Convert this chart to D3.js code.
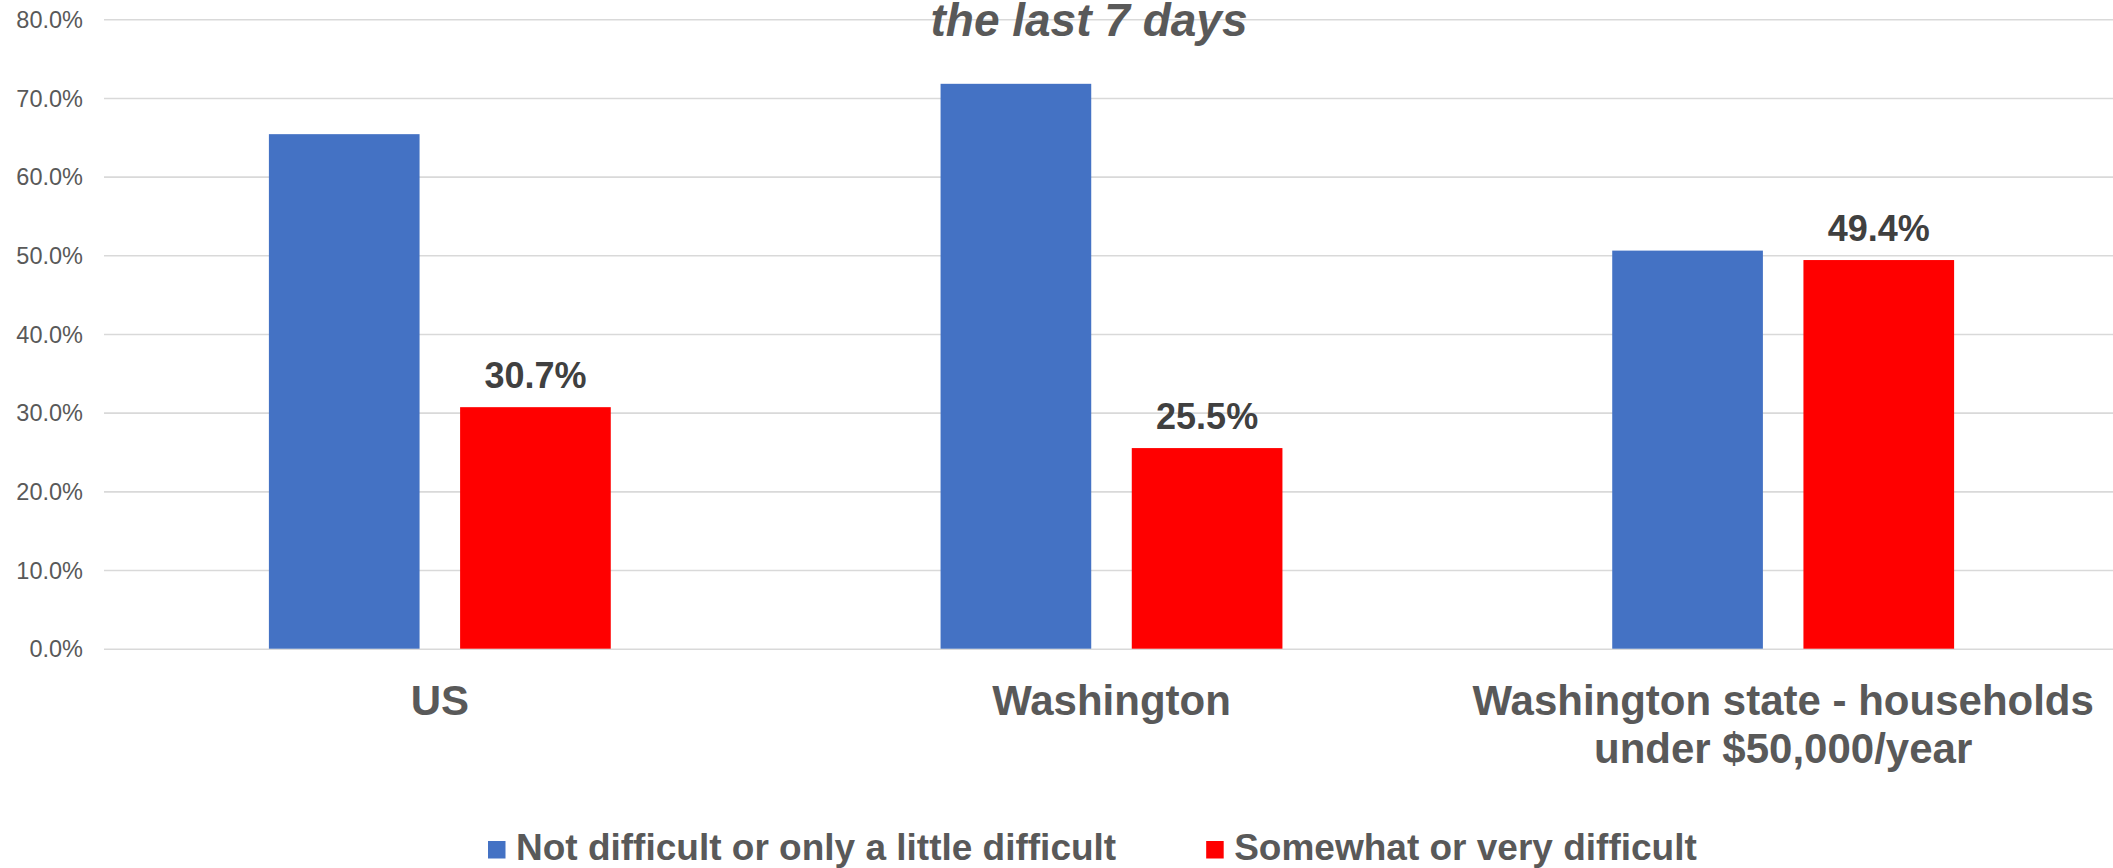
<!DOCTYPE html>
<html>
<head>
<meta charset="utf-8">
<script src="https://cdn.jsdelivr.net/npm/d3@7"></script>
<style>
  html, body { margin: 0; padding: 0; background: #ffffff; }
  svg { display: block; font-family: "Liberation Sans", Arial, sans-serif; }
</style>
</head>
<body>
<svg id="chart" width="2113" height="868"></svg>
<script>
// Categories (multi-line labels split into lines)
const categories = ["US", "Washington", "Washington state - households under $50,000/year"];
const categoryLines = [["US"], ["Washington"], ["Washington state - households", "under $50,000/year"]];

// Series
const seriesNames = ["Not difficult or only a little difficult", "Somewhat or very difficult"];
const notDifficult = [65.4, 71.8, 50.6];
const difficult = [30.7, 25.5, 49.4];
const seriesColors = ["#4472C4", "#FF0000"];
const labelledSeries = [false, true];

// Y axis ticks
const yTicks = [0, 10, 20, 30, 40, 50, 60, 70, 80];
const yMax = 80;

const titleText = "the last 7 days";

const W = 2113, H = 868;
const plot = { left: 104, right: 2119, top: 19.3, bottom: 648.7 };

const svg = d3.select("#chart");

const x0 = d3.scaleBand()
  .domain(categories)
  .range([plot.left, plot.right])
  .paddingInner(0.491)
  .paddingOuter(0.2455);

const x1 = d3.scaleBand()
  .domain(seriesNames)
  .range([0, x0.bandwidth()])
  .paddingInner(0.212)
  .paddingOuter(0);

const y = d3.scaleLinear().domain([0, yMax]).range([plot.bottom, plot.top]);

// Gridlines and tick labels
const yAxis = d3.axisLeft(y)
  .tickValues(yTicks)
  .tickSize(-(W - plot.left))
  .tickFormat(d => d.toFixed(1) + "%");

const gy = svg.append("g")
  .attr("transform", `translate(${plot.left},0)`)
  .call(yAxis);
gy.select(".domain").remove();
gy.selectAll(".tick line")
  .attr("stroke", "#d9d9d9")
  .attr("stroke-width", 1.6);
gy.selectAll(".tick text")
  .attr("x", -21)
  .attr("dy", "0.35em")
  .attr("fill", "#595959")
  .style("font-size", "23.5px")
  .style("font-family", "'Liberation Sans', Arial, sans-serif");

// Title (bottom line visible)
svg.append("text")
  .attr("x", 1089)
  .attr("y", 36)
  .attr("text-anchor", "middle")
  .attr("fill", "#595959")
  .style("font-size", "46px")
  .style("font-weight", "bold")
  .style("font-style", "italic")
  .text(titleText);

// Bars
const seriesData = [notDifficult, difficult];
const groups = svg.append("g").selectAll("g")
  .data(categories)
  .join("g")
  .attr("transform", d => `translate(${x0(d)},0)`);

groups.selectAll("rect")
  .data((d, i) => seriesNames.map((s, j) => ({ s, j, v: seriesData[j][i] })))
  .join("rect")
  .attr("x", d => x1(d.s))
  .attr("y", d => y(d.v))
  .attr("width", x1.bandwidth())
  .attr("height", d => y(0) - y(d.v))
  .attr("fill", d => seriesColors[d.j]);

// Data labels
groups.selectAll("text.val")
  .data((d, i) => seriesNames.map((s, j) => ({ s, j, v: seriesData[j][i] })).filter(d => labelledSeries[d.j]))
  .join("text")
  .attr("class", "val")
  .attr("x", d => x1(d.s) + x1.bandwidth() / 2)
  .attr("y", d => y(d.v) - 19.5)
  .attr("text-anchor", "middle")
  .attr("fill", "#404040")
  .style("font-size", "36px")
  .style("font-weight", "bold")
  .text(d => d.v.toFixed(1) + "%");

// Category labels
categories.forEach((c, i) => {
  const t = svg.append("text")
    .attr("x", x0(c) + x0.bandwidth() / 2)
    .attr("y", 715)
    .attr("text-anchor", "middle")
    .attr("fill", "#595959")
    .style("font-size", "42px")
    .style("font-weight", "bold");
  categoryLines[i].forEach((line, k) => {
    t.append("tspan")
      .attr("x", x0(c) + x0.bandwidth() / 2)
      .attr("dy", k === 0 ? 0 : 48)
      .text(line);
  });
});

// Legend
const legend = svg.append("g");
let lx = 488;
seriesNames.forEach((s, j) => {
  legend.append("rect")
    .attr("x", lx)
    .attr("y", 841)
    .attr("width", 17.5)
    .attr("height", 17.5)
    .attr("fill", seriesColors[j]);
  const t = legend.append("text")
    .attr("x", lx + 28)
    .attr("y", 860)
    .attr("fill", "#595959")
    .style("font-size", "37px")
    .style("font-weight", "bold")
    .text(s);
  lx = lx + 28 + t.node().getComputedTextLength() + 90;
});
</script>
</body>
</html>
